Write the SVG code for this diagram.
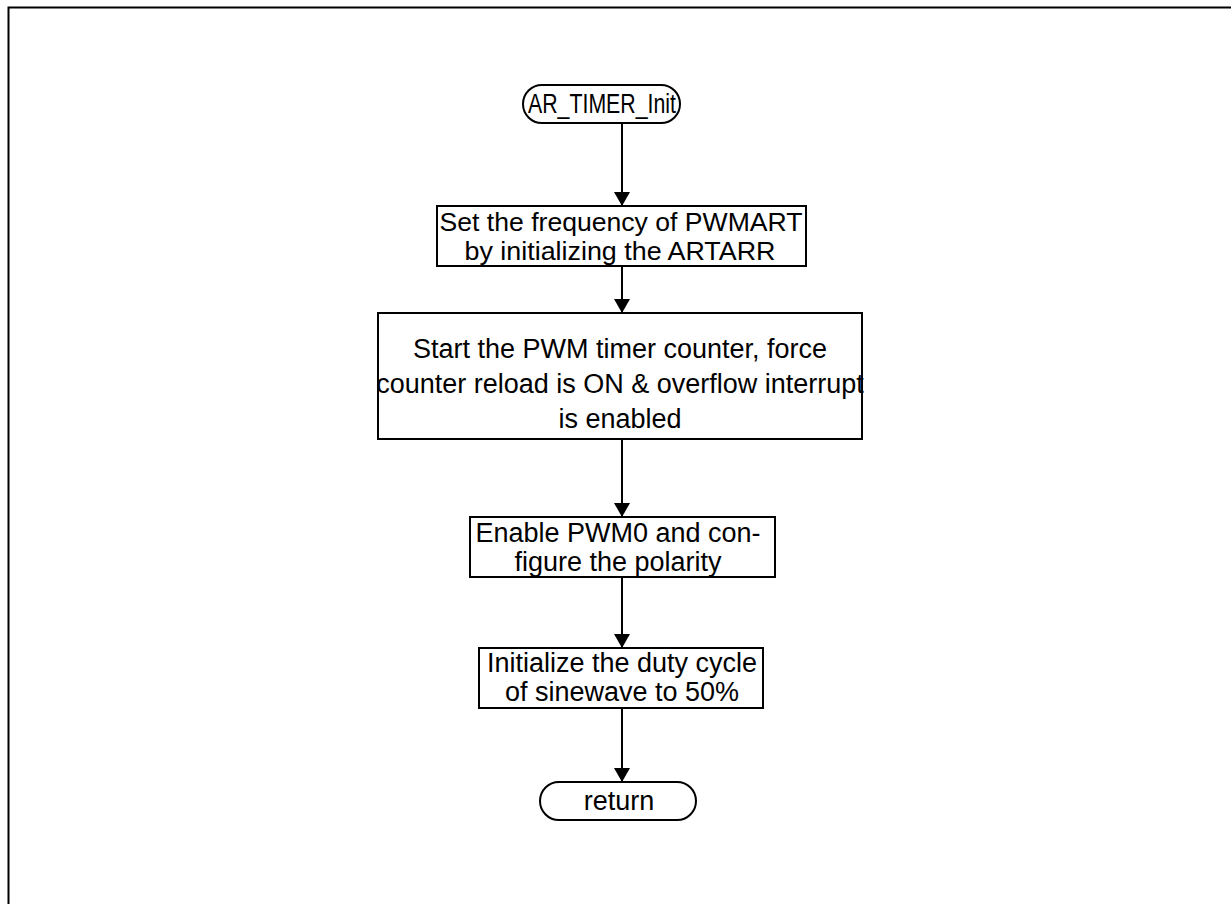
<svg xmlns="http://www.w3.org/2000/svg" width="1231" height="904" viewBox="0 0 1231 904">
<defs>
<style>
.box{fill:#fff;stroke:#000;stroke-width:2}
.t{font-family:"Liberation Sans",Arial,sans-serif;font-size:27px;fill:#000;text-anchor:middle}
.s{font-size:26px}
.c{stroke:#000;stroke-width:2;fill:none}
</style>
<marker id="ah" viewBox="0 0 14 16" refX="14" refY="8" markerWidth="14" markerHeight="16" markerUnits="userSpaceOnUse" orient="auto">
<path d="M0,0 L14,8 L0,16 Z" fill="#000"/>
</marker>
</defs>
<rect width="1231" height="904" fill="#fff"/>
<path d="M8.5,910 V7.5 H1240" class="c"/>
<g id="connectors">
<line x1="622" y1="123" x2="622" y2="206" class="c" marker-end="url(#ah)"/>
<line x1="622" y1="266" x2="622" y2="313" class="c" marker-end="url(#ah)"/>
<line x1="622" y1="439" x2="622" y2="517" class="c" marker-end="url(#ah)"/>
<line x1="622" y1="577" x2="622" y2="648" class="c" marker-end="url(#ah)"/>
<line x1="622" y1="708" x2="622" y2="782" class="c" marker-end="url(#ah)"/>
</g>
<g id="start">
<rect x="523" y="85" width="157" height="38" rx="19" ry="19" class="box"/>
<text x="602" y="113" class="t" textLength="148" lengthAdjust="spacingAndGlyphs">AR_TIMER_Init</text>
</g>
<g id="set-frequency">
<rect x="437" y="206" width="369" height="60" class="box"/>
<text x="621" y="231" class="t s" textLength="363" lengthAdjust="spacingAndGlyphs">Set the frequency of PWMART</text>
<text x="620" y="260" class="t s" textLength="311" lengthAdjust="spacingAndGlyphs">by initializing the ARTARR</text>
</g>
<g id="start-timer">
<rect x="378" y="313" width="484" height="126" class="box"/>
<text x="620" y="358" class="t">Start the PWM timer counter, force</text>
<text x="620" y="393" class="t">counter reload is ON &amp; overflow interrupt</text>
<text x="620" y="428" class="t">is enabled</text>
</g>
<g id="enable-pwm0">
<rect x="470" y="517" width="305" height="60" class="box"/>
<text x="618" y="542" class="t">Enable PWM0 and con-</text>
<text x="618" y="571" class="t">figure the polarity</text>
</g>
<g id="init-duty">
<rect x="479" y="648" width="284" height="60" class="box"/>
<text x="622" y="672" class="t">Initialize the duty cycle</text>
<text x="622" y="701" class="t">of sinewave to 50%</text>
</g>
<g id="return">
<rect x="540" y="782" width="156" height="38" rx="19" ry="19" class="box"/>
<text x="619" y="810" class="t">return</text>
</g>
</svg>
